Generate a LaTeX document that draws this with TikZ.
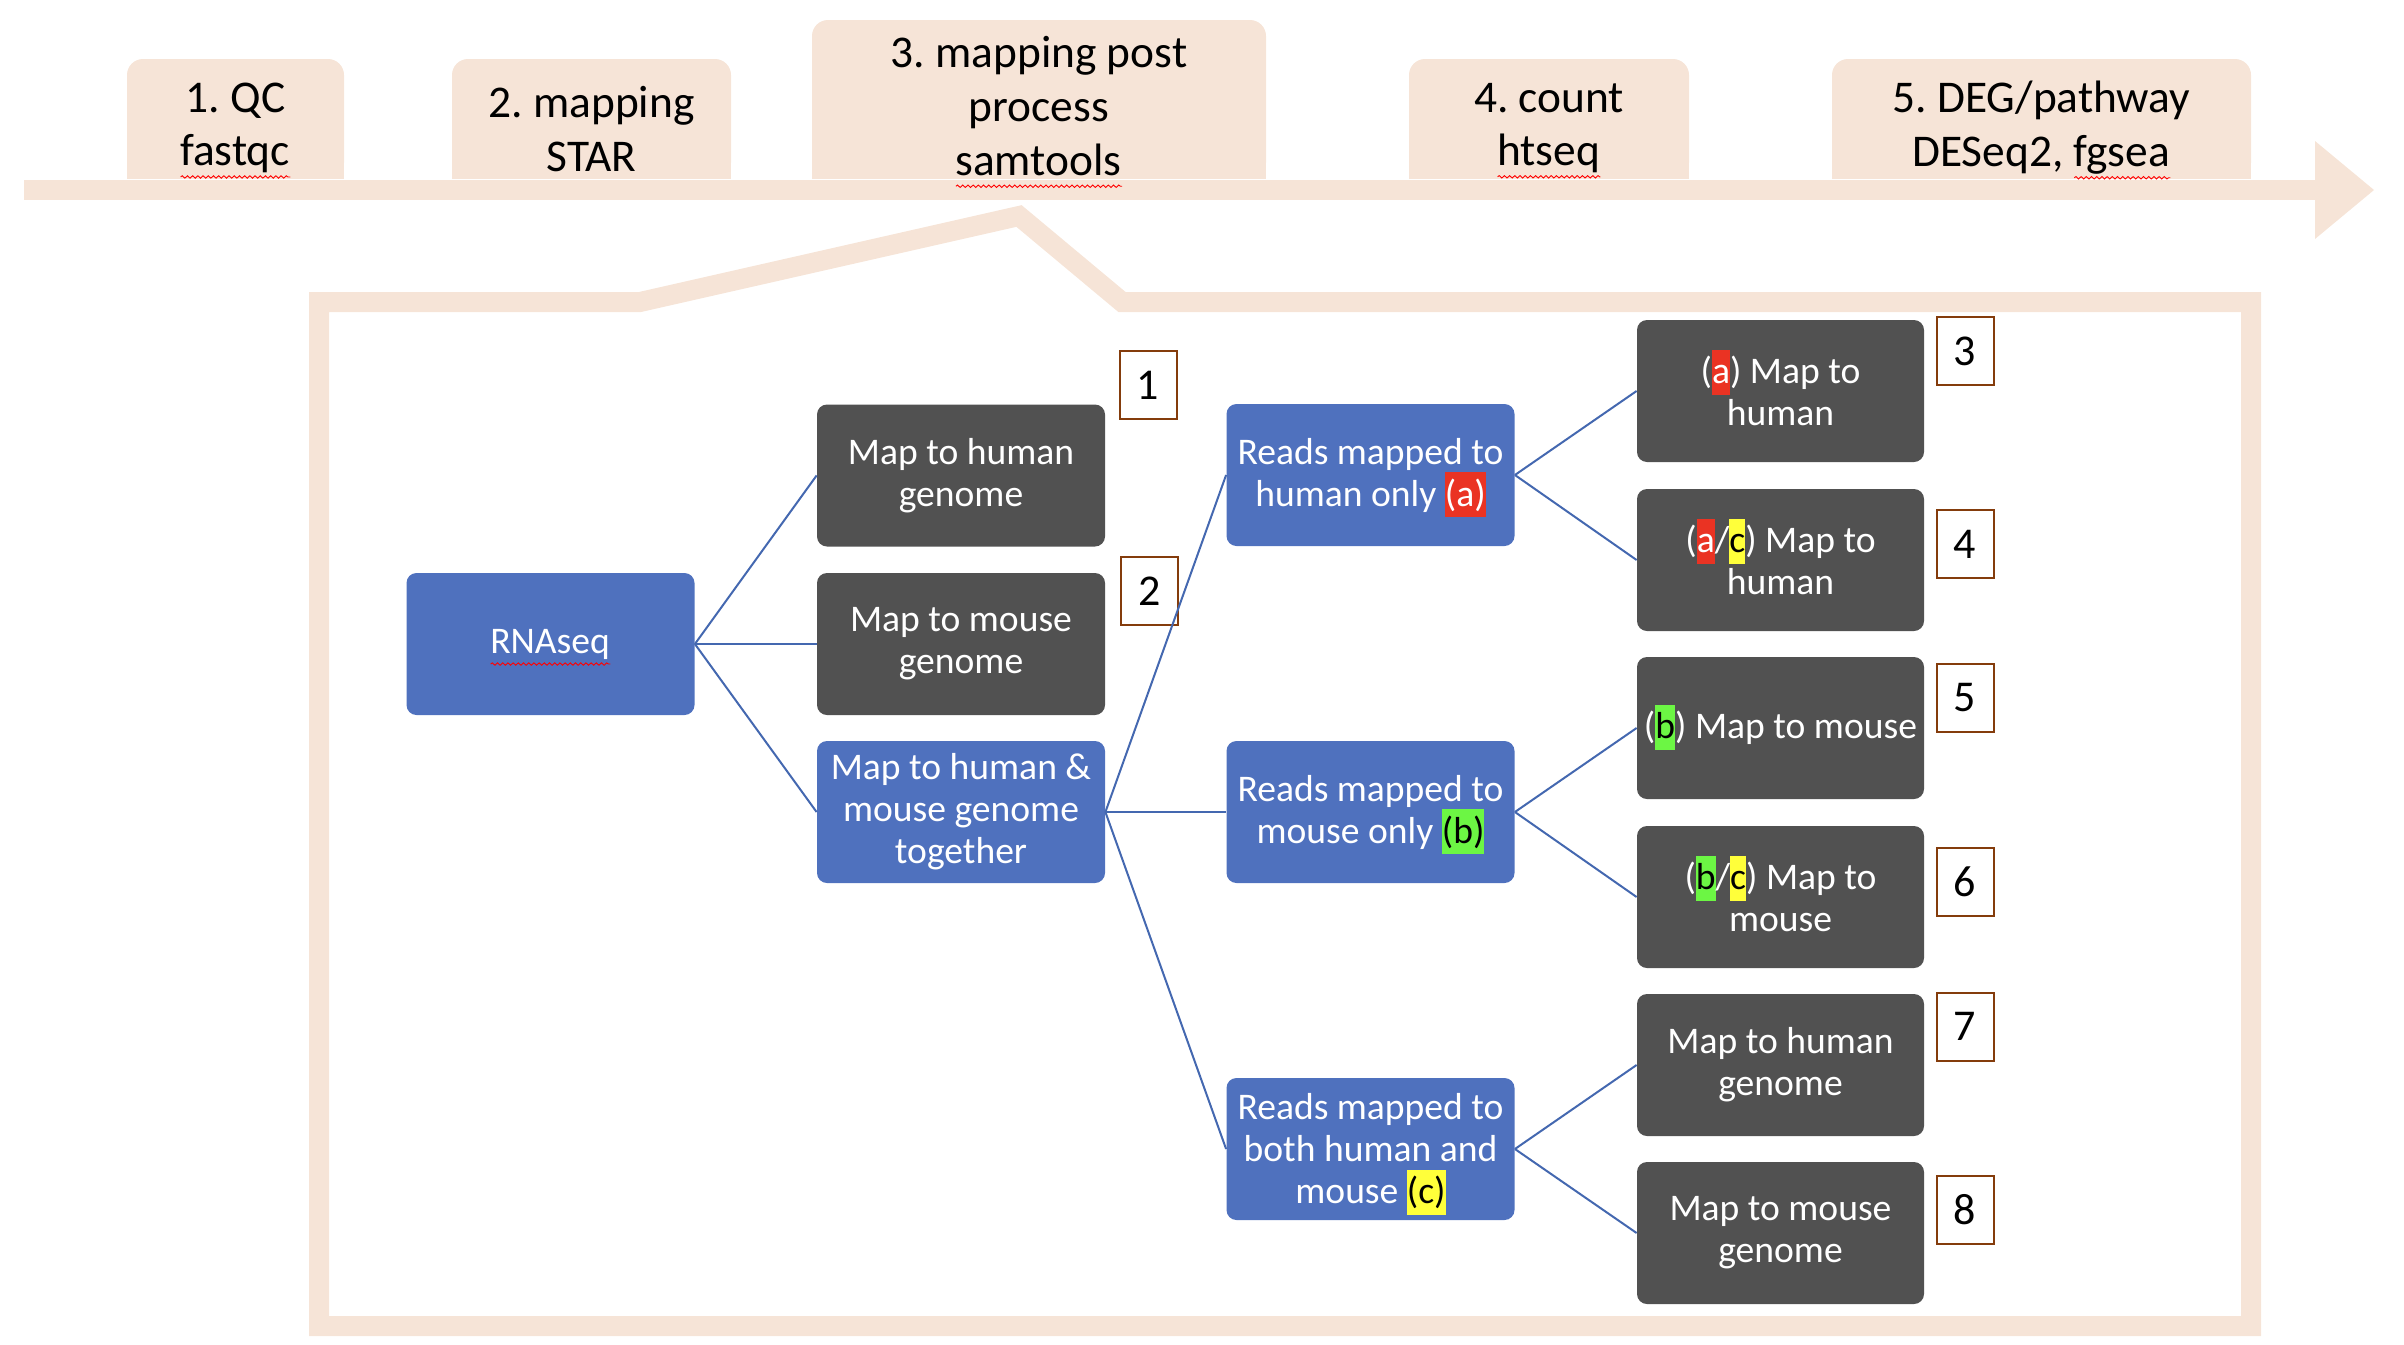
\documentclass[tikz,border=0pt]{standalone}
\usepackage{fontspec}
\setmainfont{Carlito}
\usetikzlibrary{calc,decorations.pathmorphing}
\definecolor{beige}{HTML}{F6E4D7}
\definecolor{nblue}{HTML}{4F71BE}
\definecolor{ngray}{HTML}{515151}
\definecolor{lblue}{HTML}{4468B0}
\definecolor{nbrown}{HTML}{843C0C}
\definecolor{hred}{HTML}{EA3323}
\definecolor{hgreen}{HTML}{6CF644}
\definecolor{hyel}{HTML}{FFFF3A}
\frenchspacing
\newsavebox\sqbox
\newcommand\sqw[1]{\sbox\sqbox{#1}\rlap{\usebox\sqbox}\smash{\tikz[baseline=0pt,x=1pt,y=1pt,sharp corners]{\draw[red, line width=0.45pt, sharp corners, decorate, decoration={snake, amplitude=0.6pt, segment length=2.6pt}] (0,-5.5) -- (\the\wd\sqbox,-5.5);}}}
\newcommand\hlt[2]{{\setlength{\fboxsep}{0pt}\smash{\colorbox{#1}{\rule[-5.5pt]{0pt}{22.5pt}#2}}}}
\tikzset{
  bnode/.style={rectangle, rounded corners=5pt, fill=nblue, text=white,
    minimum width=144pt, minimum height=71pt, align=center, inner sep=1pt,
    font=\fontsize{18.8}{21}\selectfont},
  gnode/.style={bnode, fill=ngray},
  numbox/.style={draw=nbrown, line width=1pt, fill=white, minimum width=28.5pt,
    minimum height=34pt, inner sep=0pt, font=\fontsize{22}{26}\selectfont},
  conn/.style={draw=lblue, line width=1pt},
  stagetext/.style={align=center, font=\fontsize{22.7}{26.9}\selectfont, inner sep=0pt},
}
\begin{document}
\begin{tikzpicture}[x=0.5pt,y=-0.5pt]
\useasboundingbox (0,0) rectangle (2404,1344);
% frame
\draw[beige, line width=10pt, miter limit=10] (319,302) -- (640,302) -- (1019,216) -- (1122,302) -- (2251,302) -- (2251,1326) -- (319,1326) -- cycle;
% arrow
\fill[beige] (24,180) rectangle (2316,200);
\fill[beige] (2315,141) -- (2374,190) -- (2315,239) -- cycle;
% stage boxes
\foreach \a/\b/\t in {127/344/59, 452/731/59, 812/1266/20, 1409/1689/59, 1832/2251/59}{
  \fill[beige, rounded corners=8pt] (\a,\t) rectangle (\b,178.5);
  \fill[beige] (\a,\t+30) rectangle (\b,178.5);
}
\node[stagetext] (s1) at (235.5,128) {1. QC\\\sqw{fastqc}};
\node[stagetext] (s2) at (591.5,129) {2. mapping\\STAR};
\node[stagetext] (s3) at (1039,106) {3. mapping post\\process\\\sqw{samtools}};
\node[stagetext] (s4) at (1549,128) {4. count\\\sqw{htseq}};
\node[stagetext] (s5) at (2041.5,128) {5. DEG/pathway\\DESeq2, \sqw{fgsea}};
% nodes
\node[bnode] (rna) at (550.5,644) {\sqw{RNAseq}};
\node[gnode] (hum) at (961,475.5) {Map to human\\genome};
\node[gnode] (mou) at (961,644) {Map to mouse\\genome};
\node[bnode] (tog) at (961,812) {Map to human \&\\mouse genome\\together};
\node[bnode] (ra) at (1370.5,475) {Reads mapped to\\human only \hlt{hred}{(a)}};
\node[bnode] (rb) at (1370.5,812) {Reads mapped to\\mouse only \hlt{hgreen}{\color{black}(b)}};
\node[bnode] (rc) at (1370.5,1149) {Reads mapped to\\both human and\\mouse \hlt{hyel}{\color{black}(c)}};
\node[gnode, minimum width=143.5pt] (n3) at (1780.5,391) {(\hlt{hred}{a}) Map to\\human};
\node[gnode, minimum width=143.5pt] (n4) at (1780.5,560) {(\hlt{hred}{a}/\hlt{hyel}{\color{black}c}) Map to\\human};
\node[gnode, minimum width=143.5pt] (n5) at (1780.5,728) {(\hlt{hgreen}{\color{black}b}) Map to mouse};
\node[gnode, minimum width=143.5pt] (n6) at (1780.5,897) {(\hlt{hgreen}{\color{black}b}/\hlt{hyel}{\color{black}c}) Map to\\mouse};
\node[gnode, minimum width=143.5pt] (n7) at (1780.5,1065) {Map to human\\genome};
\node[gnode, minimum width=143.5pt] (n8) at (1780.5,1233) {Map to mouse\\genome};
% number boxes
\node[numbox] (b1) at (1148,385) {1};
\node[numbox] (b2) at (1149.5,591) {2};
\node[numbox] (b3) at (1965,351) {3};
\node[numbox] (b4) at (1965,544) {4};
\node[numbox] (b5) at (1965,697.5) {5};
\node[numbox] (b6) at (1965,882) {6};
\node[numbox] (b7) at (1965,1026.5) {7};
\node[numbox] (b8) at (1965,1209.5) {8};
% connectors
\draw[conn] (rna.east) -- (hum.west);
\draw[conn] (rna.east) -- (mou.west);
\draw[conn] (rna.east) -- (tog.west);
\draw[conn] (tog.east) -- (ra.west);
\draw[conn] (tog.east) -- (rb.west);
\draw[conn] (tog.east) -- (rc.west);
\draw[conn] (ra.east) -- (n3.west);
\draw[conn] (ra.east) -- (n4.west);
\draw[conn] (rb.east) -- (n5.west);
\draw[conn] (rb.east) -- (n6.west);
\draw[conn] (rc.east) -- (n7.west);
\draw[conn] (rc.east) -- (n8.west);
\end{tikzpicture}
\end{document}
